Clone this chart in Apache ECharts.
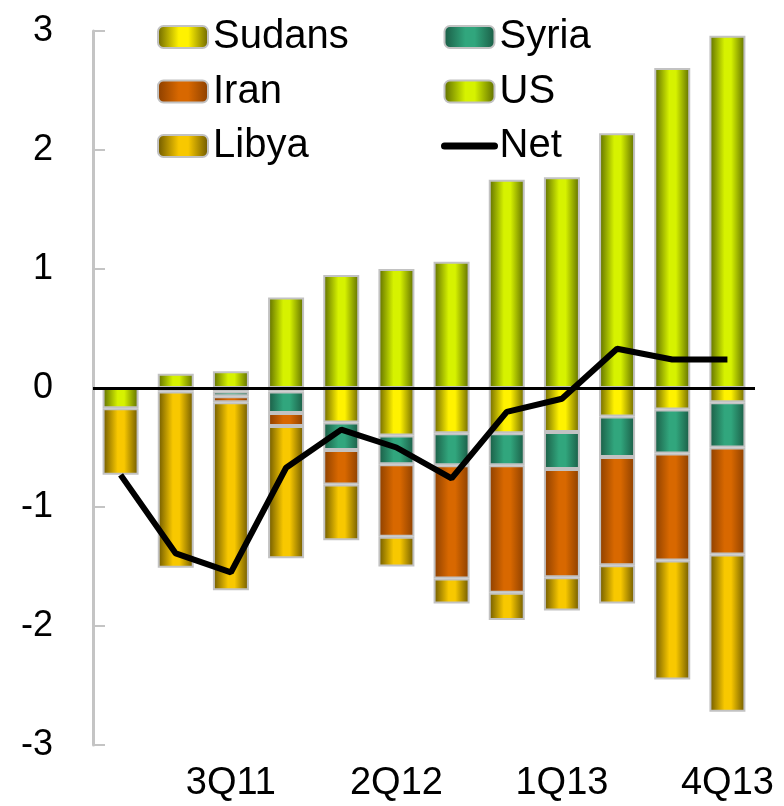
<!DOCTYPE html>
<html>
<head>
<meta charset="utf-8">
<script src="https://cdn.jsdelivr.net/npm/echarts@6/dist/echarts.min.js"></script>
<style>
  html, body { margin: 0; padding: 0; background: #fff; }
  #main { width: 784px; height: 806px; }
</style>
</head>
<body>
<div id="main"></div>
<script>
var quarters = ['1Q11', '2Q11', '3Q11', '4Q11', '1Q12', '2Q12', '3Q12', '4Q12', '1Q13', '2Q13', '3Q13', '4Q13'];
var sudans = [0, -0.03, -0.03, -0.03, -0.29, -0.40, -0.38, -0.38, -0.37, -0.24, -0.18, -0.12];
var syria  = [0, 0, -0.04, -0.18, -0.23, -0.24, -0.27, -0.27, -0.31, -0.34, -0.37, -0.38];
var iran   = [0, 0, -0.05, -0.11, -0.29, -0.61, -0.95, -1.07, -0.91, -0.91, -0.90, -0.90];
var us     = [-0.17, 0.12, 0.14, 0.76, 0.95, 1.00, 1.06, 1.75, 1.77, 2.14, 2.69, 2.96];
var libya  = [-0.56, -1.48, -1.58, -1.11, -0.47, -0.25, -0.21, -0.23, -0.28, -0.32, -1.00, -1.32];
var net    = [-0.73, -1.39, -1.55, -0.67, -0.35, -0.50, -0.76, -0.20, -0.09, 0.33, 0.24, 0.24];

var FONT = '"Liberation Sans", Arial, sans-serif';

// bars look like tubes: dark edges, bright middle
function tube(dark, light) {
  return new echarts.graphic.LinearGradient(0, 0, 1, 0, [
    { offset: 0, color: dark },
    { offset: 0.42, color: light },
    { offset: 0.6, color: light },
    { offset: 1, color: dark }
  ]);
}

function noZero(arr) {
  return arr.map(function (v) { return v === 0 ? '-' : v; });
}

function barSeries(name, data, dark, light) {
  return {
    name: name,
    type: 'bar',
    stack: 'all',
    barWidth: 36,
    data: noZero(data),
    itemStyle: {
      color: tube(dark, light),
      borderColor: '#c2c2c2',
      borderWidth: 2
    }
  };
}

var legendBase = {
  orient: 'vertical',
  top: 17,
  padding: 0,
  itemWidth: 50,
  itemHeight: 22,
  itemGap: 14.5,
  selectedMode: false,
  textStyle: { fontFamily: FONT, fontSize: 40, color: '#000' }
};

var chart = echarts.init(document.getElementById('main'));

var option = {
  animation: false,
  grid: { left: 93, right: 29, top: 31, bottom: 61 },
  legend: [
    Object.assign({}, legendBase, { left: 157, data: ['Sudans', 'Iran', 'Libya'] }),
    Object.assign({}, legendBase, {
      left: 441,
      data: ['Syria', 'US', {
        name: 'Net',
        itemStyle: { opacity: 0 },
        lineStyle: { width: 7, color: '#000', cap: 'round' }
      }]
    })
  ],
  xAxis: {
    type: 'category',
    data: quarters,
    axisLine: { show: false },
    axisTick: { show: false },
    axisLabel: {
      interval: function (i) { return i % 3 === 2; },
      fontFamily: FONT,
      fontSize: 38,
      color: '#000',
      margin: 20
    }
  },
  yAxis: {
    type: 'value',
    min: -3,
    max: 3,
    interval: 1,
    axisLine: { show: true, lineStyle: { color: '#c4c4c4', width: 3 } },
    axisTick: { show: true, inside: true, length: 12, lineStyle: { color: '#c4c4c4', width: 2 } },
    splitLine: { show: false },
    axisLabel: {
      fontFamily: FONT,
      fontSize: 36,
      color: '#000',
      margin: 40
    }
  },
  series: [
    barSeries('Sudans', sudans, '#6b6400', '#fff200'),
    barSeries('Syria', syria, '#1a5a44', '#31a67d'),
    barSeries('Iran', iran, '#8a3e00', '#d86800'),
    barSeries('US', us, '#5c6a00', '#d6f200'),
    barSeries('Libya', libya, '#6b5600', '#f8c800'),
    {
      name: 'Net',
      type: 'line',
      data: net,
      symbol: 'none',
      z: 10,
      lineStyle: { color: '#000', width: 6 },
      itemStyle: { color: '#000' },
      markLine: {
        silent: true,
        symbol: 'none',
        label: { show: false },
        lineStyle: { color: '#000', width: 3, type: 'solid' },
        data: [{ yAxis: 0 }]
      }
    }
  ]
};

chart.setOption(option);
</script>
</body>
</html>
